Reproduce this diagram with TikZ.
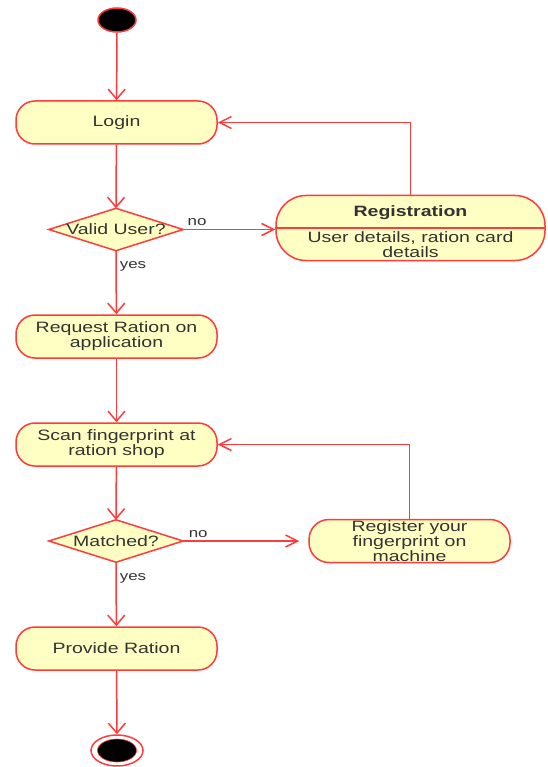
\documentclass[tikz,border=0pt]{standalone}
\usepackage{fontspec}
\setmainfont[FakeStretch=1.3]{Liberation Sans}
\usetikzlibrary{arrows.meta,shapes.geometric}
\definecolor{umlred}{RGB}{255,59,59}
\definecolor{umlfill}{RGB}{255,255,196}
\definecolor{umltext}{RGB}{51,51,51}
\tikzset{
  act/.style={draw=umlred, fill=umlfill, line width=1.5pt, rectangle, rounded corners=19pt,
    minimum width=201pt, minimum height=43pt, inner sep=0pt, align=center,
    text=umltext, font=\fontsize{15}{15}\selectfont},
  decis/.style={draw=none, rectangle, minimum width=134pt, minimum height=42pt, inner sep=0pt,
    text=umltext, font=\fontsize{15}{15}\selectfont},
  diamondpath/.style={draw=umlred, fill=umlfill, line width=1.5pt},
  flow/.style={draw=umlred, line width=1.5pt},
  vtip/.style={-{Straight Barb[length=10pt,width=17pt,line width=1.5pt]}},
  htip/.style={-{Straight Barb[length=12pt,width=12pt,line width=1.5pt]}},
  lbl/.style={text=umltext, font=\fontsize{13}{13}\selectfont, inner sep=0pt},
}
\begin{document}
\begin{tikzpicture}[x=1pt,y=-1pt]
\useasboundingbox (0,0) rectangle (547,767);
\fill[white] (0,0) rectangle (547,767);

% start
\node[ellipse, draw=umlred, fill=black, line width=1.5pt, minimum width=38pt, minimum height=24pt, inner sep=0pt] (start) at (117,20) {};

% activities
\node[act] (login) at (116.5,122.5) {Login};
\node[decis] (valid) at (116,229.5) {};
\draw[diamondpath] (valid.west) -- (valid.north) -- (valid.east) -- (valid.south) -- cycle;
\node[text=umltext, font=\fontsize{15}{15}\selectfont] at (valid.center) {Valid User?};

\node[act, minimum width=269pt, minimum height=65pt, rounded corners=30pt] (reg) at (410.5,228) {};
\draw[flow] (reg.west) -- (reg.east);
\node[text=umltext, font=\fontsize{15}{15}\selectfont\bfseries] (regtitle) at (410.5,213) {Registration};
\node[text=umltext, font=\fontsize{15}{14.5}\selectfont, align=center] (regbody) at (410.5,244.5) {User details, ration card\\details};

\node[act] (request) at (116.5,336.5) {Request Ration on\\application};
\node[act] (scan) at (116.5,444.5) {Scan fingerprint at\\ration shop};
\node[decis] (matched) at (116,541) {};
\draw[diamondpath] (matched.west) -- (matched.north) -- (matched.east) -- (matched.south) -- cycle;
\node[text=umltext, font=\fontsize{15}{15}\selectfont] at (matched.center) {Matched?};

\node[act, rounded corners=20pt] (register) at (409.5,541) {Register your\\fingerprint on\\machine};
\node[act] (provide) at (116.5,648.5) {Provide Ration};

% end
\node[ellipse, draw=umlred, fill=white, line width=1.5pt, minimum width=52pt, minimum height=31pt, inner sep=0pt] (end) at (117,750.5) {};
\fill[black, draw=umlred, line width=0.6pt] (end.center) ellipse [x radius=19.5pt, y radius=11.5pt];

% connectors
\draw[flow, vtip] (start) -- (login);
\draw[flow, vtip] (login) -- (valid.north);
\draw[flow, htip] (valid.east) -- (valid.east -| reg.west) node[lbl, pos=0.15, above=3pt] {no};
\draw[flow, htip] (reg.north) |- (login.east);
\draw[flow, vtip] (valid.south) -- (request) node[lbl, pos=0.25, right=3pt] {yes};
\draw[flow, vtip] (request) -- (scan);
\draw[flow, vtip] (scan) -- (matched.north);
\draw[flow, htip, shorten >=9pt] (matched.east) -- (register.west) node[lbl, pos=0.12, above=3pt] {no};
\draw[flow, htip] (register.north) |- (scan.east);
\draw[flow, vtip] (matched.south) -- (provide) node[lbl, pos=0.25, right=3pt] {yes};
\draw[flow, vtip] (provide) -- (end);
\end{tikzpicture}
\end{document}
